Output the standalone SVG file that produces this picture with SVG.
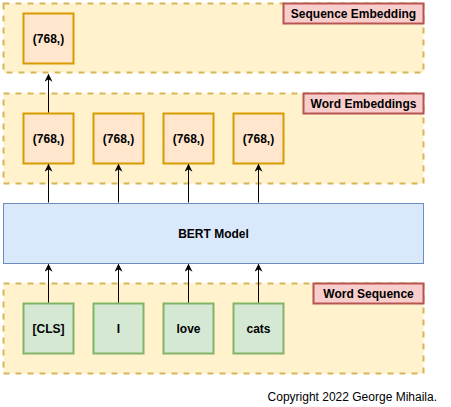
<svg xmlns="http://www.w3.org/2000/svg" width="451" height="407" viewBox="0 0 451 407">
<defs>
<style>
.cont{fill:#fff2cc;stroke:#d6b656;stroke-width:2;stroke-dasharray:6 6}
.lbl{fill:#f8cecc;stroke:#b85450;stroke-width:2}
.emb{fill:#ffe6cc;stroke:#d79b00;stroke-width:2}
.tok{fill:#d5e8d4;stroke:#82b366;stroke-width:2}
.bert{fill:#dae8fc;stroke:#6c8ebf;stroke-width:1}
text{font-family:"Liberation Sans",Arial,sans-serif;font-size:12px;fill:#000;text-anchor:middle;dominant-baseline:central}
.b{font-weight:bold}
.edge{stroke:#000;stroke-width:1;fill:none;marker-end:url(#arr)}
</style>
<marker id="arr" viewBox="0 0 10 10" refX="9" refY="5" markerWidth="8" markerHeight="8" markerUnits="userSpaceOnUse" orient="auto">
<path d="M0,0 L10,5 L0,10 L3,5 Z" fill="#000"/>
</marker>
</defs>
<g id="seq-emb-container"><rect class="cont" x="3.5" y="3.5" width="420" height="69"/></g>
<g id="seq-emb-label"><rect class="lbl" x="283.5" y="3.5" width="140" height="20"/><text class="b" x="353.5" y="13.5">Sequence Embedding</text></g>
<g id="word-emb-container"><rect class="cont" x="3.5" y="93.5" width="420" height="90"/></g>
<g id="word-emb-label"><rect class="lbl" x="303.5" y="93.5" width="120" height="20"/><text class="b" x="363.5" y="103.5">Word Embeddings</text></g>
<g id="word-seq-container"><rect class="cont" x="3.5" y="283.5" width="420" height="90"/></g>
<g id="word-seq-label"><rect class="lbl" x="313.5" y="283.5" width="110" height="20"/><text class="b" x="368.5" y="293.5">Word Sequence</text></g>
<g id="seq-emb"><rect class="emb" x="23.5" y="13.5" width="50" height="50"/><text class="b" x="48.5" y="38.5">(768,)</text></g>
<g id="emb1"><rect class="emb" x="23.5" y="113.5" width="50" height="50"/><text class="b" x="48.5" y="138.5">(768,)</text></g>
<g id="emb2"><rect class="emb" x="93.5" y="113.5" width="50" height="50"/><text class="b" x="118.5" y="138.5">(768,)</text></g>
<g id="emb3"><rect class="emb" x="163.5" y="113.5" width="50" height="50"/><text class="b" x="188.5" y="138.5">(768,)</text></g>
<g id="emb4"><rect class="emb" x="233.5" y="113.5" width="50" height="50"/><text class="b" x="258.5" y="138.5">(768,)</text></g>
<g id="bert"><rect class="bert" x="3.5" y="203.5" width="420" height="60"/><text class="b" x="213.5" y="233.5">BERT Model</text></g>
<g id="tok1"><rect class="tok" x="23.5" y="303.5" width="50" height="50"/><text class="b" x="48.5" y="328.5">[CLS]</text></g>
<g id="tok2"><rect class="tok" x="93.5" y="303.5" width="50" height="50"/><text class="b" x="118.5" y="328.5">I</text></g>
<g id="tok3"><rect class="tok" x="163.5" y="303.5" width="50" height="50"/><text class="b" x="188.5" y="328.5">love</text></g>
<g id="tok4"><rect class="tok" x="233.5" y="303.5" width="50" height="50"/><text class="b" x="258.5" y="328.5">cats</text></g>
<g id="connectors">
<path class="edge" d="M48.5,112.5 V74.5"/>
<path class="edge" d="M48.5,202.5 V164.5"/>
<path class="edge" d="M118.5,202.5 V164.5"/>
<path class="edge" d="M188.5,202.5 V164.5"/>
<path class="edge" d="M258.5,202.5 V164.5"/>
<path class="edge" d="M48.5,302.5 V264.5"/>
<path class="edge" d="M118.5,302.5 V264.5"/>
<path class="edge" d="M188.5,302.5 V264.5"/>
<path class="edge" d="M258.5,302.5 V264.5"/>
</g>
<text x="437" y="397" style="text-anchor:end">Copyright 2022 George Mihaila.</text>
</svg>
